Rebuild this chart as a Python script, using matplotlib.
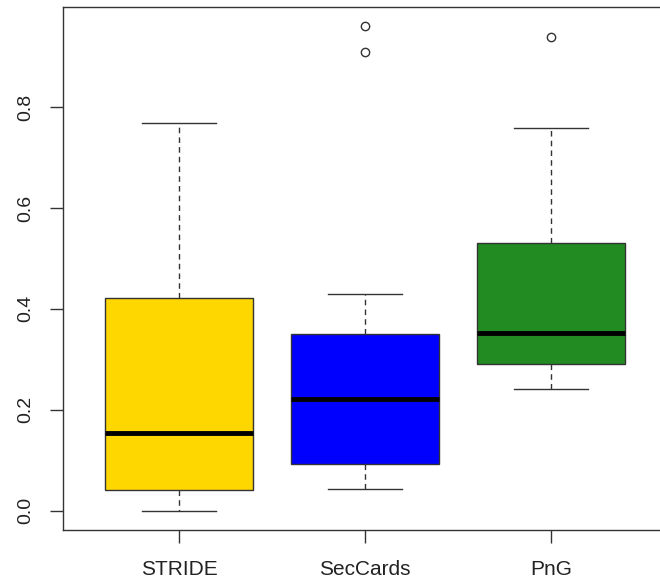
import matplotlib.pyplot as plt
import numpy as np

plt.rcParams['font.family'] = ['Liberation Sans', 'DejaVu Sans']

groups = ['STRIDE', 'SecCards', 'PnG']
colors = ['#FFD700', '#0000FF', '#228B22']

# five-number summaries
whislo = [0.0, 0.042, 0.242]
q1 = [0.04, 0.093, 0.291]
med = [0.154, 0.222, 0.352]
q3 = [0.422, 0.35, 0.531]
whishi = [0.768, 0.43, 0.758]
fliers = [[], [0.91, 0.96], [0.939]]

stats = []
for i in range(len(groups)):
    stats.append(dict(label=groups[i], whislo=whislo[i], q1=q1[i], med=med[i],
                      q3=q3[i], whishi=whishi[i], fliers=fliers[i]))

fig = plt.figure(figsize=(6.6, 5.81), dpi=100)
ax = fig.add_axes([63/660, 1 - 530/581, (667-63)/660, (530-7)/581])

line_col = '#333333'
bp = ax.bxp(stats, positions=[1, 2, 3], widths=0.8, patch_artist=True,
            boxprops=dict(edgecolor=line_col, linewidth=1),
            medianprops=dict(color='black', linewidth=3.5, solid_capstyle='butt'),
            whiskerprops=dict(color=line_col, linewidth=1, linestyle=(0, (4, 3))),
            capprops=dict(color=line_col, linewidth=1),
            flierprops=dict(marker='o', markersize=6, markerfacecolor='none',
                            markeredgecolor=line_col, markeredgewidth=1),
            capwidths=0.4)
for patch, c in zip(bp['boxes'], colors):
    patch.set_facecolor(c)

ax.set_xlim(0.376, 3.624)
ax.set_ylim(-0.0384, 0.9984)
ax.set_yticks([0.0, 0.2, 0.4, 0.6, 0.8])
ax.set_yticklabels(['0.0', '0.2', '0.4', '0.6', '0.8'], rotation=90, va='center')
ax.tick_params(axis='both', direction='out', length=9.4, width=1, color=line_col,
               labelsize=14, colors='#222222')
ax.tick_params(axis='x', pad=12, labelsize=15)
ax.tick_params(axis='y', pad=11)
for s in ax.spines.values():
    s.set_color(line_col)
    s.set_linewidth(1)

fig.savefig('out.png', dpi=100)
